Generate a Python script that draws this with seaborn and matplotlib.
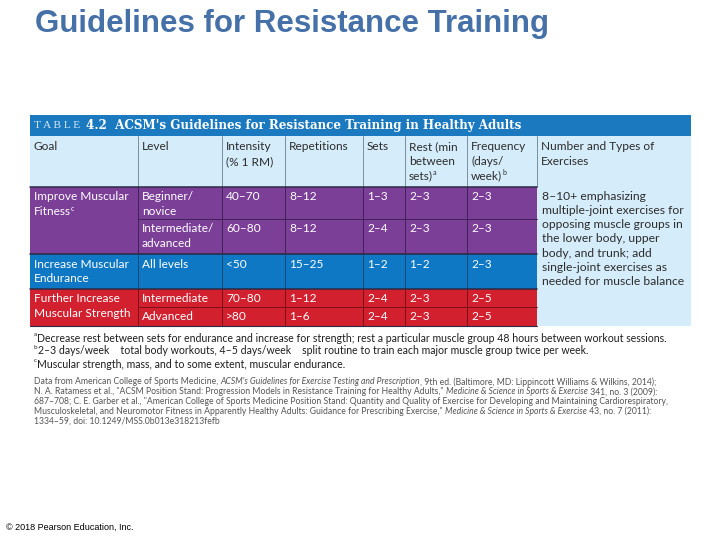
import matplotlib
matplotlib.use('Agg')
import matplotlib.pyplot as plt
from matplotlib.patches import Rectangle
import seaborn as sns

# table content
TITLE = 'Guidelines for Resistance Training'
TABLE_NUM = '4.2'
TABLE_TITLE = "ACSM's Guidelines for Resistance Training in Healthy Adults"

HEADERS = [['Goal'], ['Level'], ['Intensity', '(% 1 RM)'], ['Repetitions'], ['Sets'],
           ['Rest (min', 'between', 'sets)^a'], ['Frequency', '(days/', 'week)^b'],
           ['Number and Types of', 'Exercises']]

goals = [['Improve Muscular', 'Fitness^c'], ['Increase Muscular', 'Endurance'],
         ['Further Increase', 'Muscular Strength']]
goal_rows = [[0, 1], [2], [3, 4]]
levels = [['Beginner/', 'novice'], ['Intermediate/', 'advanced'], ['All levels'],
          ['Intermediate'], ['Advanced']]
intensity = ['40–70', '60–80', '<50', '70–80', '>80']
repetitions = ['8–12', '8–12', '15–25', '1–12', '1–6']
sets = ['1–3', '2–4', '1–2', '2–4', '2–4']
rest = ['2–3', '2–3', '1–2', '2–3', '2–3']
frequency = ['2–3', '2–3', '2–3', '2–5', '2–5']
exercises = ['8–10+ emphasizing', 'multiple-joint exercises for', 'opposing muscle groups in',
             'the lower body, upper', 'body, and trunk; add', 'single-joint exercises as',
             'needed for muscle balance']

footnotes = [('a', 'Decrease rest between sets for endurance and increase for strength; rest a particular muscle group 48 hours between workout sessions.'),
             ('b', '2–3 days/week    total body workouts, 4–5 days/week    split routine to train each major muscle group twice per week.'),
             ('c', 'Muscular strength, mass, and to some extent, muscular endurance.')]

citation = [
    [('Data from American College of Sports Medicine, ', 'n'), ("ACSM's Guidelines for Exercise Testing and Prescription", 'i'),
     (', 9th ed. (Baltimore, MD: Lippincott Williams & Wilkins, 2014);', 'n')],
    [('N. A. Ratamess et al., "ACSM Position Stand: Progression Models in Resistance Training for Healthy Adults," ', 'n'),
     ('Medicine & Science in Sports & Exercise', 'i'), (' 341, no. 3 (2009):', 'n')],
    [('687–708; C. E. Garber et al., "American College of Sports Medicine Position Stand: Quantity and Quality of Exercise for Developing and Maintaining Cardiorespiratory,', 'n')],
    [('Musculoskeletal, and Neuromotor Fitness in Apparently Healthy Adults: Guidance for Prescribing Exercise," ', 'n'),
     ('Medicine & Science in Sports & Exercise', 'i'), (' 43, no. 7 (2011):', 'n')],
    [('1334–59, doi: 10.1249/MSS.0b013e318213fefb', 'n')],
]
COPYRIGHT = '© 2018 Pearson Education, Inc.'

# layout (pixel coordinates)
COL_X = [30, 138, 222, 285, 363, 405, 467, 537, 691]
ROW_Y = [187, 219, 254, 289, 307, 326]
BAR_TOP, HEAD_TOP = 115, 136

GROUP_COLORS = ['#7b3f98', '#0f78c4', '#d2202e']
GROUP_LINES = ['#3f2356', '#124a78', '#7e1018']
LIGHT = '#d5ecfa'
BAR = '#1b7abf'
FONT = 'Lato'
FS = 8.6

sns.set_theme(style='white')
plt.rcParams['font.family'] = [FONT, 'DejaVu Sans']

fig = plt.figure(figsize=(7.2, 5.4), dpi=100)
ax = fig.add_axes([0, 0, 1, 1])
ax.set_xlim(0, 720)
ax.set_ylim(540, 0)
ax.axis('off')
renderer = fig.canvas.get_renderer()


def rich(x, y, segs, size, color, family=FONT, weight='normal'):
    """draw text pieces one after the other, 'sup' pieces are raised"""
    for s, style in segs:
        kw = dict(fontsize=size, color=color, family=[family, 'DejaVu Sans'], va='center',
                  ha='left', weight=weight)
        yy = y
        if style == 'i':
            kw['style'] = 'italic'
        if style == 'sup':
            kw['fontsize'] = size * 0.6
            yy = y - size * 0.4
        t = ax.text(x, yy, s, **kw)
        x += t.get_window_extent(renderer=renderer).width


def cell_text(x, y, line, size=FS, color='white'):
    if '^' in line:
        main, sup = line.split('^')
        rich(x, y, [(main, 'n'), (sup, 'sup')], size, color)
    else:
        ax.text(x, y, line, fontsize=size, color=color, va='center', ha='left')


left, right = COL_X[0], COL_X[-1]

# title
ax.text(35, 24, TITLE, fontsize=22.5, color='#4570a8', weight='bold',
        family=['Liberation Sans', 'DejaVu Sans'], va='center', ha='left')

# table title bar
ax.add_patch(Rectangle((left, BAR_TOP), right - left, HEAD_TOP - BAR_TOP, color=BAR, lw=0))
rich(34, 126, [('T A B L E', 'n')], 8.2, '#d6e8f6', family='Liberation Serif')
rich(86, 126, [(TABLE_NUM + '  ' + TABLE_TITLE, 'n')], 8.6, 'white',
     family='DejaVu Serif', weight='bold')

# header
ax.add_patch(Rectangle((left, HEAD_TOP), right - left, ROW_Y[0] - HEAD_TOP, color=LIGHT, lw=0))
for i, lines in enumerate(HEADERS):
    for j, line in enumerate(lines):
        cell_text(COL_X[i] + 4, 147 + j * 14.3, line, color='#2d2d2d')
for x in COL_X[1:-1]:
    ax.plot([x, x], [HEAD_TOP, ROW_Y[0]], color='#7a8e9c', lw=0.7)

# body fills
ax.add_patch(Rectangle((COL_X[7], ROW_Y[0]), right - COL_X[7], ROW_Y[-1] - ROW_Y[0],
                       color=LIGHT, lw=0))
for g, rows in enumerate(goal_rows):
    top, bot = ROW_Y[rows[0]], ROW_Y[rows[-1] + 1]
    ax.add_patch(Rectangle((left, top), COL_X[7] - left, bot - top, color=GROUP_COLORS[g], lw=0))
    for x in COL_X[1:7]:
        ax.plot([x, x], [top, bot], color=GROUP_LINES[g], lw=0.7)
    for r in rows[1:]:
        ax.plot([COL_X[1], COL_X[7]], [ROW_Y[r], ROW_Y[r]], color=GROUP_LINES[g], lw=0.7)
    for j, line in enumerate(goals[g]):
        cell_text(COL_X[0] + 4, top + 10 + j * 14.5, line)
    ax.plot([left, COL_X[7]], [top, top], color='#2b2b45', lw=1.1)
ax.plot([left, COL_X[7]], [ROW_Y[-1], ROW_Y[-1]], color='#2b2b45', lw=0.8)

for r in range(len(levels)):
    top = ROW_Y[r] + (10 if ROW_Y[r + 1] - ROW_Y[r] > 22 else 9.5)
    for j, line in enumerate(levels[r]):
        cell_text(COL_X[1] + 4, top + j * 14.5, line)
    for c, col in enumerate([intensity, repetitions, sets, rest, frequency]):
        cell_text(COL_X[c + 2] + 4, top, col[r])

for j, line in enumerate(exercises):
    cell_text(COL_X[7] + 5, 196 + j * 14.3, line, size=8.7, color='#2d2d2d')

# footnotes
for k, (mark, note) in enumerate(footnotes):
    rich(34, 338 + k * 13, [(mark, 'sup'), (note, 'n')], 7.6, '#1e1e1e')

# citation
for k, segs in enumerate(citation):
    rich(34, 382 + k * 9.8, segs, 6.2, '#555555')

ax.text(6, 527, COPYRIGHT, fontsize=6.5, color='black', va='center', ha='left',
        family=['Liberation Sans', 'DejaVu Sans'])

fig.savefig('out.png', dpi=100)
